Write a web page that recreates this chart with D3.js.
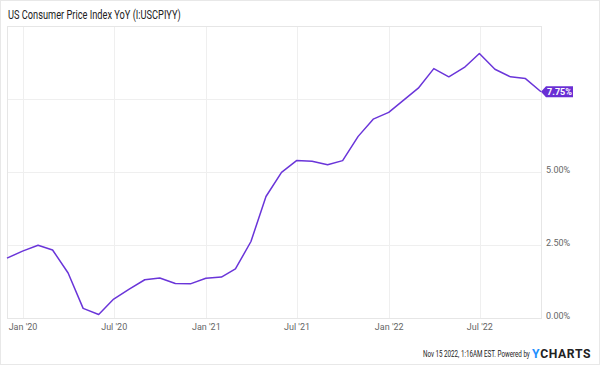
<!DOCTYPE html>
<html>
<head>
<meta charset="utf-8">
<script src="https://cdn.jsdelivr.net/npm/d3@7"></script>
<style>
  body { margin: 0; background: #fff; }
  svg { display: block; font-family: Roboto, sans-serif; }
</style>
</head>
<body>
<svg id="chart" width="600" height="365"></svg>
<script>
// monthly CPI yoy, Nov 2019 .. Oct 2022 (plotted at month end)
var months = ["2019-11","2019-12","2020-01","2020-02","2020-03","2020-04","2020-05","2020-06",
  "2020-07","2020-08","2020-09","2020-10","2020-11","2020-12","2021-01","2021-02","2021-03",
  "2021-04","2021-05","2021-06","2021-07","2021-08","2021-09","2021-10","2021-11","2021-12",
  "2022-01","2022-02","2022-03","2022-04","2022-05","2022-06","2022-07","2022-08","2022-09","2022-10"];
var cpiYoy = [2.05,2.29,2.49,2.33,1.54,0.33,0.12,0.65,0.99,1.31,1.37,1.18,1.17,1.36,1.40,1.68,2.62,
  4.16,4.99,5.39,5.37,5.25,5.39,6.22,6.81,7.04,7.48,7.87,8.54,8.26,8.58,9.06,8.52,8.26,8.20,7.75];
var yTicks = [0, 2.5, 5, 7.5];
var xTickDates = ["2020-01-01","2020-07-01","2021-01-01","2021-07-01","2022-01-01","2022-07-01"];
var titleText = "US Consumer Price Index YoY (I:USCPIYY)";
var footerText = "Nov 15 2022, 1:16AM EST. Powered by";

var lineColor = "#6a35d9";
var svg = d3.select("#chart");

var parseM = d3.timeParse("%Y-%m");
var data = months.map(function(m, i) {
  var d = parseM(m);
  return [d3.timeDay.offset(d3.timeMonth.offset(d, 1), -1), cpiYoy[i]];
});

var pL = 7, pR = 541, pT = 26, pB = 318;
var x = d3.scaleTime()
  .domain([data[0][0], data[data.length - 1][0]])
  .range([pL, pR]);
var y = d3.scaleLinear().domain([0, 10]).range([pB, pT]);

// squeeze a text horizontally to a given width (condensed look)
function squeeze(sel, px, py, w) {
  var len = sel.node().getComputedTextLength();
  sel.attr("transform", "translate(" + px + "," + py + ") scale(" + (w / len) + ",1)");
}

// outer frame
svg.append("rect").attr("x", 0.5).attr("y", 0.5).attr("width", 599).attr("height", 364)
  .attr("fill", "none").attr("stroke", "#e8e8e8");

var title = svg.append("text")
  .attr("font-size", 12).attr("fill", "#222")
  .text(titleText);
squeeze(title, 8, 19, 173);

// grid
var grid = svg.append("g");
grid.selectAll(".hg").data(yTicks).enter().append("line")
  .attr("x1", pL).attr("x2", pR)
  .attr("y1", function(d) { return Math.round(y(d)) + 0.5; })
  .attr("y2", function(d) { return Math.round(y(d)) + 0.5; })
  .attr("stroke", "#efefef");
var xTicks = xTickDates.map(function(s) { return d3.timeParse("%Y-%m-%d")(s); });
grid.selectAll(".vg").data(xTicks).enter().append("line")
  .attr("x1", function(d) { return Math.round(x(d)) + 0.5; })
  .attr("x2", function(d) { return Math.round(x(d)) + 0.5; })
  .attr("y1", pT).attr("y2", pB)
  .attr("stroke", "#efefef");
svg.append("rect").attr("x", pL + 0.5).attr("y", pT + 0.5)
  .attr("width", pR - pL).attr("height", pB - pT)
  .attr("fill", "none").attr("stroke", "#e6e6e6");

// axis labels
var fmtX = d3.timeFormat("%b '%y");
svg.selectAll(".xl").data(xTicks).enter().append("text")
  .attr("x", function(d) { return x(d); }).attr("y", 330)
  .attr("text-anchor", "middle").attr("font-size", 9).attr("fill", "#666")
  .text(fmtX);
svg.selectAll(".yl").data(yTicks.filter(function(d) { return d < 7.5; })).enter().append("text")
  .attr("x", 546).attr("y", function(d) { return y(d) + 1; })
  .attr("font-size", 9).attr("fill", "#666")
  .text(function(d) { return d3.format(".2f")(d) + "%"; });

// line
svg.append("path").datum(data)
  .attr("d", d3.line().x(function(d) { return x(d[0]); }).y(function(d) { return y(d[1]); }))
  .attr("fill", "none").attr("stroke", lineColor).attr("stroke-width", 1.5)
  .attr("stroke-linejoin", "round");

// last value badge
var last = data[data.length - 1];
var bx = x(last[0]), by = y(last[1]);
svg.append("path")
  .attr("d", "M" + bx + "," + by + "L" + (bx + 5) + "," + (by - 5.5) + "H" + (bx + 32) +
    "V" + (by + 5.5) + "H" + (bx + 5) + "Z")
  .attr("fill", "#6a2fd4");
svg.append("text").attr("x", bx + 18.5).attr("y", by + 3.5)
  .attr("text-anchor", "middle").attr("font-size", 9).attr("font-weight", "bold")
  .attr("fill", "#fff").text(d3.format(".2f")(last[1]) + "%");

// footer
var foot = svg.append("text")
  .attr("font-size", 9).attr("fill", "#222")
  .text(footerText);
squeeze(foot, 423, 357, 107);
var logo = svg.append("text")
  .attr("font-size", 12).attr("font-weight", "bold").attr("fill", "#222")
  .attr("letter-spacing", 0.6);
logo.append("tspan").attr("fill", "#1e90ff").text("Y");
logo.append("tspan").text("CHARTS");
squeeze(logo, 532, 358, 59);
</script>
</body>
</html>
